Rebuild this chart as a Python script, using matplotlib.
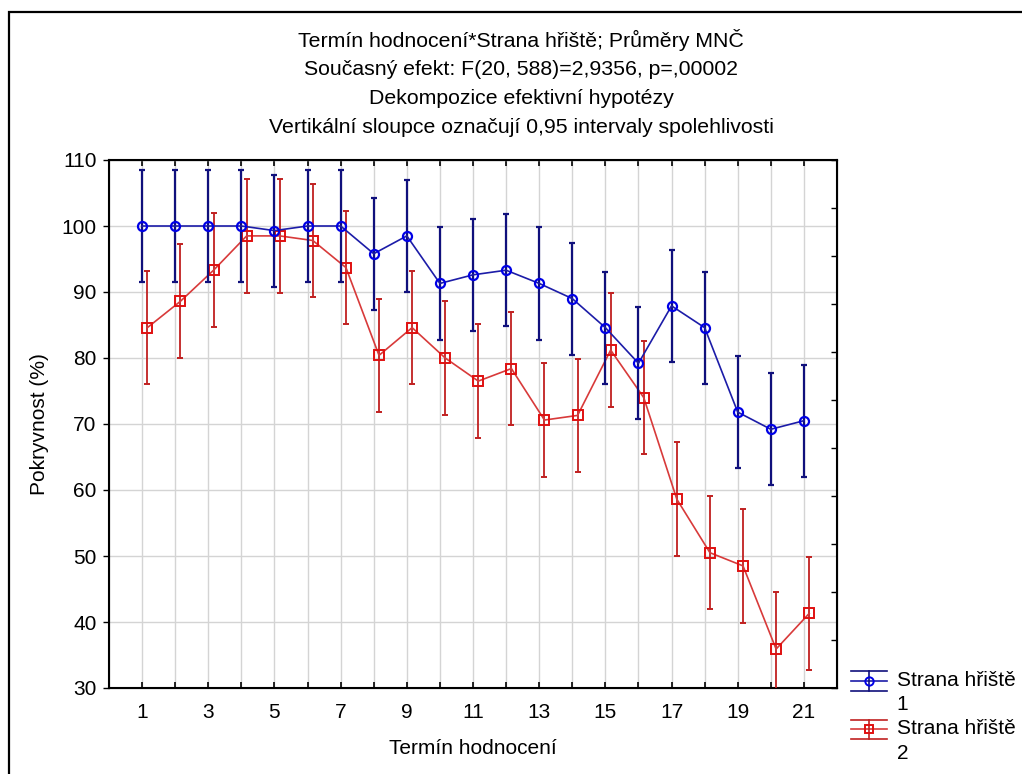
import matplotlib
matplotlib.use("Agg")
import matplotlib.pyplot as plt
from matplotlib.patches import Rectangle
from matplotlib.legend_handler import HandlerBase
from matplotlib.lines import Line2D
import numpy as np

plt.rcParams['font.family'] = ['Liberation Sans', 'DejaVu Sans']

# Evaluation terms
terms = list(range(1, 22))

# LS means of coverage (%) per field side
side1_mean = [100.0, 100.0, 100.0, 100.0, 99.3, 100.0, 100.0, 95.8, 98.5, 91.3, 92.6,
              93.3, 91.3, 89.0, 84.6, 79.2, 87.9, 84.6, 71.8, 69.2, 70.5]
side2_mean = [84.6, 88.6, 93.3, 98.5, 98.5, 97.8, 93.7, 80.4, 84.6, 80.0, 76.5,
              78.4, 70.6, 71.3, 81.2, 74.0, 58.6, 50.5, 48.5, 35.9, 41.3]

# Half-widths of the 0.95 confidence intervals
side1_ci = [8.5, 8.5, 8.5, 8.5, 8.5, 8.5, 8.5, 8.5, 8.5, 8.5, 8.5,
            8.5, 8.5, 8.5, 8.5, 8.5, 8.5, 8.5, 8.5, 8.5, 8.5]
side2_ci = [8.6, 8.6, 8.6, 8.6, 8.6, 8.6, 8.6, 8.6, 8.6, 8.6, 8.6,
            8.6, 8.6, 8.6, 8.6, 8.6, 8.6, 8.6, 8.6, 8.6, 8.6]

series_labels = ["Strana hřiště\n1", "Strana hřiště\n2"]
odd_tick_labels = [str(t) if t % 2 == 1 else "" for t in terms]
y_ticks = [30, 40, 50, 60, 70, 80, 90, 100, 110]

title_lines = [
    "Termín hodnocení*Strana hřiště; Průměry MNČ",
    "Současný efekt: F(20, 588)=2,9356, p=,00002",
    "Dekompozice efektivní hypotézy",
    "Vertikální sloupce označují 0,95 intervaly spolehlivosti",
]


class MeanCIHandler(HandlerBase):
    """Legend key: mean line with marker, vertical interval and wide caps."""

    def __init__(self, line_color, bar_color, marker, marker_color, **kw):
        super().__init__(**kw)
        self.line_color = line_color
        self.bar_color = bar_color
        self.marker = marker
        self.marker_color = marker_color

    def create_artists(self, legend, orig_handle, xdescent, ydescent,
                       width, height, fontsize, trans):
        cy = height / 2 - ydescent + 0.75 * height
        half = 0.62 * height
        arts = []
        for yy, col in ((cy - half, self.bar_color), (cy + half, self.bar_color),
                        (cy, self.line_color)):
            ln = Line2D([-xdescent, -xdescent + width], [yy, yy], color=col, lw=1.2)
            arts.append(ln)
        xm = -xdescent + width / 2
        arts.append(Line2D([xm, xm], [cy - half, cy + half], color=self.bar_color, lw=1.2))
        arts.append(Line2D([xm], [cy], marker=self.marker, ms=6, mfc="none",
                           mec=self.marker_color, mew=1.4, ls="none"))
        for a in arts:
            a.set_transform(trans)
        return arts


W, H = 1022, 774
fig = plt.figure(figsize=(W / 100, H / 100), dpi=100)
fig.patch.set_facecolor("white")

# outer frame of the graph window
fig.patches.append(Rectangle((8.5 / W, -0.05), 1.2, 1 - 11.5 / H + 0.05,
                             transform=fig.transFigure, fill=False,
                             edgecolor="black", linewidth=1.6))

ax = fig.add_axes([109 / W, 1 - 688 / H, (837 - 109) / W, (688 - 160) / H])

x = np.array(terms, dtype=float)
e1 = ax.errorbar(x, side1_mean, yerr=side1_ci, color="#1c1ca8", lw=1.2,
                 marker="o", ms=6.5, mfc="none", mec="#0000e6", mew=1.6,
                 ecolor="#10107c", elinewidth=1.6, capsize=2.0, capthick=1.2,
                 zorder=4, label=series_labels[0])
e2 = ax.errorbar(x + 0.16, side2_mean, yerr=side2_ci, color="#d83a3a", lw=1.2,
                 marker="s", ms=6.5, mfc="none", mec="#e01010", mew=1.4,
                 ecolor="#c02020", elinewidth=1.3, capsize=2.0, capthick=1.0,
                 zorder=3, label=series_labels[1])

ax.set_xlim(0, 22)
ax.set_ylim(30, 110)
ax.set_xticks(terms)
ax.set_xticklabels(odd_tick_labels)
ax.set_yticks(y_ticks)
ax.grid(True, color="#d4d4d4", linewidth=1.0, zorder=0)
ax.set_axisbelow(True)
for s in ax.spines.values():
    s.set_linewidth(1.5)

ax.tick_params(axis="x", direction="in", top=True, length=4, width=1.2,
               labelsize=15, pad=11)
ax.tick_params(axis="y", direction="out", length=4, width=1.0, labelsize=15, pad=5)

ax.set_xlabel("Termín hodnocení", fontsize=15, labelpad=12)
ax.set_ylabel("Pokryvnost (%)", fontsize=15, labelpad=9)

# unlabeled right-hand scale
ax2 = ax.twinx()
ax2.set_ylim(0, 11)
ax2.set_yticks(range(0, 12))
ax2.set_yticklabels([])
ax2.tick_params(axis="y", direction="in", length=4, width=1.0)

for i, line in enumerate(title_lines):
    fig.text(521 / W, 1 - (40 + 29.3 * i) / H, line, ha="center", va="center",
             fontsize=15.3)

leg = fig.legend(handles=[e1, e2], loc="upper left",
                 bbox_to_anchor=(851 / W, 1 - 671 / H), frameon=False,
                 fontsize=15, handlelength=1.75, handleheight=0.8, handletextpad=0.45,
                 labelspacing=0.25, borderaxespad=0, borderpad=0,
                 handler_map={e1: MeanCIHandler("#1c1ca8", "#10107c", "o", "#0000e6"),
                              e2: MeanCIHandler("#d83a3a", "#c02020", "s", "#e01010")})
for t in leg.get_texts():
    t.set_linespacing(1.35)

fig.savefig("out.png", dpi=100, facecolor="white")
